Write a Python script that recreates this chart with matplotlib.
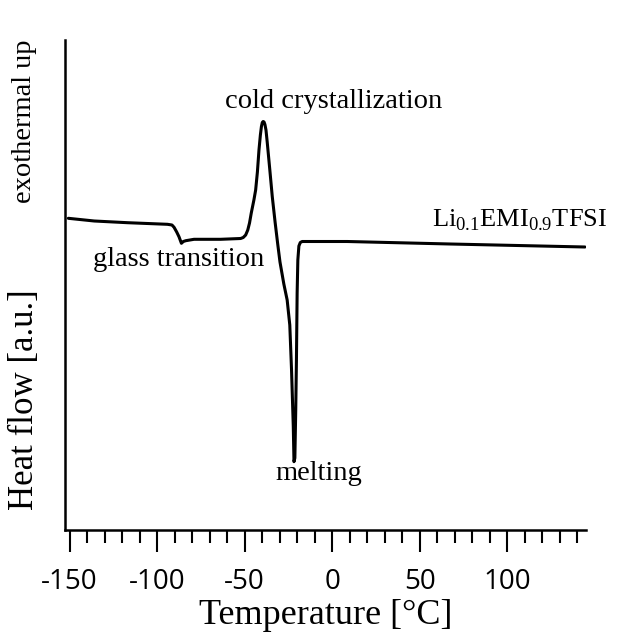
"""DSC trace of Li0.1EMI0.9TFSI with annotated transitions."""

import matplotlib
matplotlib.use("Agg")
import matplotlib.pyplot as plt
from matplotlib.ticker import MultipleLocator

# temperature [degC] and heat flow [a.u.]
temperature = [
    -150.7, -135.9, -116.9, -94.1, -91.5, -90.3, -88.8, -87.5, -86.1, -85.0,
    -83.6, -78.9, -63.7, -52.3, -50.8, -49.4, -48.2, -47.2, -46.2, -44.7,
    -43.7, -42.7, -41.8, -41.0, -40.4, -39.9, -39.4, -38.9, -38.4, -37.8,
    -37.1, -35.6, -34.2, -32.6, -31.1, -29.8, -27.6, -25.7, -24.2, -23.2,
    -22.2, -21.8, -21.3, -20.8, -20.4, -20.0, -19.6, -19.0, -18.2, -17.1,
    8.6, 67.4, 144.4,
]
heat_flow = [
    3.117, 3.09, 3.073, 3.057, 3.05, 3.027, 2.98, 2.933, 2.867, 2.885,
    2.893, 2.907, 2.907, 2.915, 2.925, 2.95, 3.0, 3.07, 3.17, 3.30,
    3.40, 3.58, 3.80, 3.95, 4.035, 4.075, 4.085, 4.08, 4.055, 4.0,
    3.88, 3.60, 3.333, 3.08, 2.86, 2.68, 2.46, 2.30, 2.05, 1.60,
    1.033, 0.683, 0.72, 1.20, 1.70, 2.37, 2.70, 2.84, 2.875, 2.885,
    2.885, 2.86, 2.83,
]

major_ticks = [-150, -100, -50, 0, 50, 100]
tick_labels = ["-150", "-100", "-50", "0", "50", "100"]

# annotation text and anchor (temperature, heat flow)
annotations = [
    ("cold crystallization", 0.7, 4.29),
    ("glass transition", -87.6, 2.70),
    ("melting", -7.8, 0.56),
]
sample_label = r"Li$_{\mathregular{0.1}}$EMI$_{\mathregular{0.9}}$TFSI"

SERIF = "Liberation Serif"
plt.rcParams["mathtext.fontset"] = "custom"
plt.rcParams["mathtext.rm"] = SERIF

fig = plt.figure(figsize=(6.32, 6.35), dpi=100)
ax = fig.add_axes([65 / 632, 105 / 635, 521 / 632, 490 / 635])

ax.plot(temperature, heat_flow, color="black", lw=2.2,
        solid_joinstyle="round", solid_capstyle="round")

ax.set_xlim(-152.6, 145)
ax.set_ylim(0, 4.9)

for side in ("top", "right"):
    ax.spines[side].set_visible(False)
for side in ("left", "bottom"):
    ax.spines[side].set_linewidth(1.8)

ax.set_yticks([])
ax.set_xticks(major_ticks)
ax.set_xticklabels(tick_labels, fontfamily="Open Sans", fontsize=20)
ax.xaxis.set_minor_locator(MultipleLocator(10))
ax.tick_params(axis="x", which="major", direction="out", length=15.5, width=1.5, pad=12)
ax.tick_params(axis="x", which="minor", direction="out", length=9, width=1.5)

ax.set_xlabel("Temperature [°C]", fontfamily=SERIF, fontsize=26, labelpad=2)

fig.text(25 / 632, 1 - 400 / 635, "Heat flow [a.u.]", rotation=90,
         ha="center", va="center", fontfamily=SERIF, fontsize=25)
fig.text(25 / 632, 1 - 121 / 635, "exothermal up", rotation=90,
         ha="center", va="center", fontfamily=SERIF, fontsize=20.5)

for text, x, y in annotations:
    ax.text(x, y, text, ha="center", va="center", fontfamily=SERIF, fontsize=20.5)
ax.text(57.2, 3.10, sample_label, ha="left", va="center",
        fontfamily=SERIF, fontsize=19)

fig.savefig("out.png", dpi=100)
